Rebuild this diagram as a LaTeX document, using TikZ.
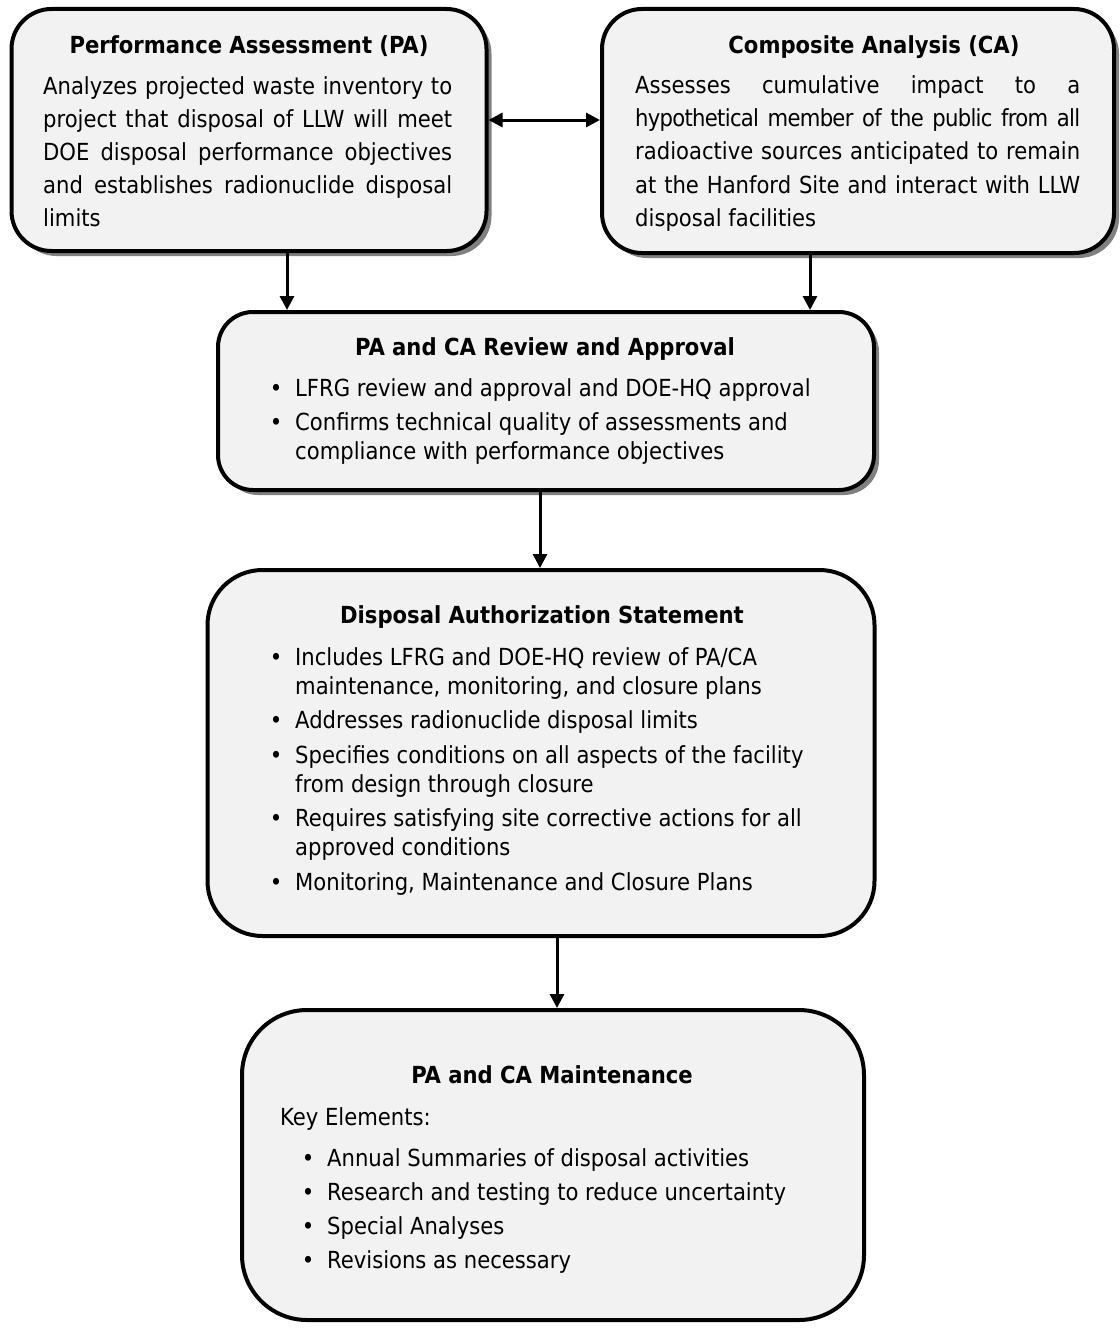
\documentclass[tikz,border=0pt]{standalone}
\usepackage{fontspec}
\setmainfont{DejaVu Sans Condensed}
\usetikzlibrary{arrows.meta,shadows}
\definecolor{boxgray}{HTML}{F2F2F2}
\definecolor{shgray}{HTML}{808080}
\newcommand\bodyfont{\fontsize{23.5}{28}\selectfont}
\newcommand\titlefont{\fontsize{23.5}{28}\selectfont\bfseries}
\begin{document}
\begin{tikzpicture}[x=1pt,y=-1pt,
  box/.style={draw=black,line width=4pt,fill=boxgray,rounded corners=#1,inner sep=0pt},
  shbox/.style={box=#1,general shadow={fill=shgray,shadow xshift=5pt,shadow yshift=-5pt}},
  ttl/.style={anchor=base,inner sep=0pt,font=\titlefont},
  txt/.style={anchor=base west,inner sep=0pt,font=\bodyfont},
  bul/.style={anchor=base,inner sep=0pt,font=\bodyfont},
  arr/.style={line width=3pt,-{Triangle[length=14pt,width=14pt]}},
  darr/.style={line width=3pt,{Triangle[length=14pt,width=14pt]}-{Triangle[length=14pt,width=14pt]}}
]
\useasboundingbox (0,0) rectangle (1119,1330);

% boxes
\node[shbox=40pt,minimum width=475pt,minimum height=242pt] (PA) at (249,130) {};
\node[shbox=40pt,minimum width=512pt,minimum height=244pt] (CA) at (858,131) {};
\node[shbox=35pt,minimum width=656pt,minimum height=178pt] (REV) at (546,401) {};
\node[box=55pt,minimum width=667pt,minimum height=366pt] (DAS) at (541,753) {};
\node[box=65pt,minimum width=622pt,minimum height=310pt] (MNT) at (553,1165) {};

% connectors
\draw[darr] (PA.east |- 0,120) -- (CA.west |- 0,120);
\draw[arr] (287,0 |- PA.south) -- (287,0 |- REV.north);
\draw[arr] (810,0 |- CA.south) -- (810,0 |- REV.north);
\draw[arr] (540,0 |- REV.south) -- (540,0 |- DAS.north);
\draw[arr] (557,0 |- DAS.south) -- (557,0 |- MNT.north);

% PA text
\node[ttl] (PAt) at (249,53) {Performance Assessment (PA)};
\node[txt] (PA1) at (43,94) {\makebox[409pt][s]{Analyzes projected waste inventory to}};
\node[txt] (PA2) at (43,127) {\makebox[409pt][s]{project that disposal of LLW will meet}};
\node[txt] (PA3) at (43,160) {\makebox[409pt][s]{DOE disposal performance objectives}};
\node[txt] (PA4) at (43,193) {\makebox[409pt][s]{and establishes radionuclide disposal}};
\node[txt] (PA5) at (43,226) {limits};

% CA text
\node[ttl] (CAt) at (874,53) {Composite Analysis (CA)};
\node[txt] (CA1) at (635,93) {\makebox[445pt][s]{Assesses cumulative impact to a}};
\node[txt] (CA2) at (635,126) {\makebox[445pt][s]{\addfontfeature{LetterSpace=-3}hypothetical member of the public from all}};
\node[txt] (CA3) at (635,159) {\makebox[445pt][s]{radioactive sources anticipated to remain}};
\node[txt] (CA4) at (635,193) {\makebox[445pt][s]{at the Hanford Site and interact with LLW}};
\node[txt] (CA5) at (635,226) {disposal facilities};

% Review text
\node[ttl] (REVt) at (545,355) {PA and CA Review and Approval};
\node[bul] (REVb1) at (276,396) {•};
\node[txt] (REV1) at (295,396) {LFRG review and approval and DOE-HQ approval};
\node[bul] (REVb2) at (276,430) {•};
\node[txt] (REV2) at (295,430) {Confirms technical quality of assessments and};
\node[txt] (REV3) at (295,459) {compliance with performance objectives};

% DAS text
\node[ttl] (DASt) at (542,623) {Disposal Authorization Statement};
\node[bul] (DASb1) at (276,665) {•};
\node[txt] (DAS1) at (295,665) {Includes LFRG and DOE-HQ review of PA/CA};
\node[txt] (DAS2) at (295,694) {maintenance, monitoring, and closure plans};
\node[bul] (DASb2) at (276,728) {•};
\node[txt] (DAS3) at (295,728) {Addresses radionuclide disposal limits};
\node[bul] (DASb3) at (276,763) {•};
\node[txt] (DAS4) at (295,763) {Specifies conditions on all aspects of the facility};
\node[txt] (DAS5) at (295,792) {from design through closure};
\node[bul] (DASb4) at (276,826) {•};
\node[txt] (DAS6) at (295,826) {Requires satisfying site corrective actions for all};
\node[txt] (DAS7) at (295,855) {approved conditions};
\node[bul] (DASb5) at (276,890) {•};
\node[txt] (DAS8) at (295,890) {Monitoring, Maintenance and Closure Plans};

% Maintenance text
\node[ttl] (MNTt) at (552,1083) {PA and CA Maintenance};
\node[txt] (MNTk) at (280,1125) {Key Elements:};
\node[bul] (MNTb1) at (308,1166) {•};
\node[txt] (MNT1) at (327,1166) {Annual Summaries of disposal activities};
\node[bul] (MNTb2) at (308,1200) {•};
\node[txt] (MNT2) at (327,1200) {Research and testing to reduce uncertainty};
\node[bul] (MNTb3) at (308,1234) {•};
\node[txt] (MNT3) at (327,1234) {Special Analyses};
\node[bul] (MNTb4) at (308,1268) {•};
\node[txt] (MNT4) at (327,1268) {Revisions as necessary};
\end{tikzpicture}
\end{document}
